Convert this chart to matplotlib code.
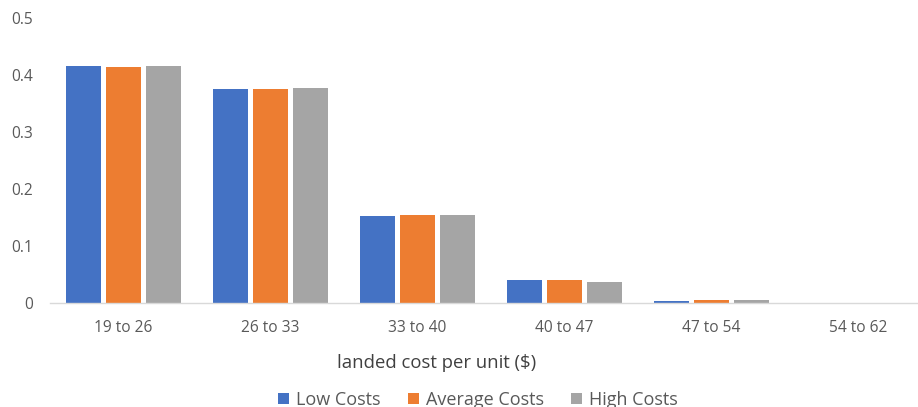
import numpy as np
import matplotlib.pyplot as plt

plt.rcParams['font.family'] = ['Open Sans', 'DejaVu Sans']

categories = ['19 to 26', '26 to 33', '33 to 40', '40 to 47', '47 to 54', '54 to 62']
low_costs = [0.416, 0.376, 0.153, 0.041, 0.003, 0.0]
average_costs = [0.414, 0.375, 0.155, 0.040, 0.0045, 0.0]
high_costs = [0.415, 0.377, 0.154, 0.037, 0.005, 0.0]

series = [
    ('Low Costs', low_costs, '#4472C4'),
    ('Average Costs', average_costs, '#ED7D31'),
    ('High Costs', high_costs, '#A5A5A5'),
]

W, H = 918, 407
fig = plt.figure(figsize=(W / 100, H / 100), dpi=100)
# plot area runs a little past the right edge of the canvas
ax = fig.add_axes([50 / W, 1 - 303 / H, 882 / W, (303 - 18) / H])

x = np.arange(len(categories))
width = 0.238
step = 0.272
for i, (name, vals, color) in enumerate(series):
    ax.bar(x + (i - 1) * step, vals, width, color=color, label=name, zorder=2)

ax.set_xlim(-0.5, len(categories) - 0.5)
ax.set_ylim(0, 0.5)
ax.set_yticks(np.arange(0, 0.51, 0.1))
ax.set_yticklabels(['0', '0.1', '0.2', '0.3', '0.4', '0.5'])
ax.set_xticks(x)
ax.set_xticklabels(categories)

for side in ['top', 'right', 'left']:
    ax.spines[side].set_visible(False)
ax.spines['bottom'].set_color('#D9D9D9')
ax.spines['bottom'].set_linewidth(1.0)
ax.tick_params(axis='both', length=0, labelsize=11.2, colors='#595959')
ax.tick_params(axis='x', pad=12)
ax.tick_params(axis='y', pad=12)

fig.text(437 / W, 1 - 363 / H, 'landed cost per unit ($)', ha='center', va='center',
         fontsize=13.3, color='#404040')

fig.legend(loc='center', bbox_to_anchor=(478 / W, 1 - 400 / H), ncol=3, frameon=False,
           fontsize=13, labelcolor='#595959', handlelength=0.6, handleheight=0.6,
           columnspacing=1.5, handletextpad=0.4)

fig.savefig('out.png', dpi=100)
